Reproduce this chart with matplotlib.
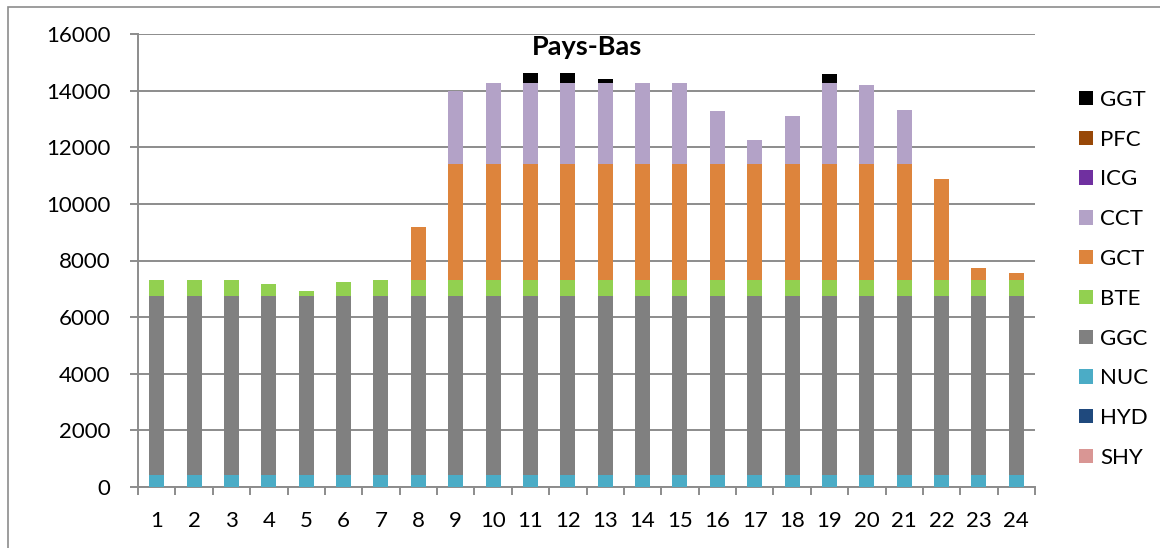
import numpy as np
import matplotlib
matplotlib.use('Agg')
import matplotlib.pyplot as plt
from matplotlib.patches import Rectangle, Patch

plt.rcParams['font.family'] = ['Lato', 'DejaVu Sans']

# data
hours = [str(h) for h in range(1, 25)]
series = ['SHY', 'HYD', 'NUC', 'GGC', 'BTE', 'GCT', 'CCT', 'ICG', 'PFC', 'GGT']
colors = ['#D99694', '#1F497D', '#4BACC6', '#808080', '#92D050',
          '#DD843C', '#B3A2C7', '#7030A0', '#984807', '#000000']

SHY = [0] * 24
HYD = [0] * 24
NUC = [440] * 24
GGC = [6310] * 24
BTE = [550, 550, 550, 430, 180, 475, 550, 550, 550, 550, 550, 550,
       550, 550, 550, 550, 550, 550, 550, 550, 550, 550, 550, 550]
GCT = [0, 0, 0, 0, 0, 0, 0, 1880, 4100, 4100, 4100, 4100,
       4100, 4100, 4100, 4100, 4100, 4100, 4100, 4100, 4100, 3590, 430, 265]
CCT = [0, 0, 0, 0, 0, 0, 0, 0, 2600, 2880, 2880, 2880,
       2880, 2880, 2880, 1870, 870, 1700, 2880, 2810, 1930, 0, 0, 0]
ICG = [0] * 24
PFC = [0] * 24
GGT = [0, 0, 0, 0, 0, 0, 0, 0, 0, 0, 350, 350,
       130, 0, 0, 0, 0, 0, 290, 0, 0, 0, 0, 0]

values = [SHY, HYD, NUC, GGC, BTE, GCT, CCT, ICG, PFC, GGT]

fig = plt.figure(figsize=(11.6, 5.48), dpi=100)
ax = fig.add_axes([138 / 1160, 1 - 487 / 548, (1035 - 138) / 1160, (487 - 34) / 548])

# chart frame
fig.patches.append(Rectangle((8 / 1160, -0.1), 1.2, 0.1 + 1 - 7 / 548,
                             transform=fig.transFigure, fill=False,
                             edgecolor='#8c8c8c', lw=1.2))

x = np.arange(1, 25)
bottom = np.zeros(24)
for name, col, vals in zip(series, colors, values):
    v = np.array(vals, dtype=float)
    ax.bar(x, v, width=0.4, bottom=bottom, color=col, linewidth=0, zorder=3)
    bottom += v

grid_col = '#8c8c8c'
ax.set_ylim(0, 16000)
ax.set_yticks(range(0, 16001, 2000))
ax.yaxis.grid(True, color=grid_col, lw=1.4, zorder=0)
ax.set_xlim(0.5, 24.5)
ax.set_xticks(x)
ax.set_xticklabels(hours)
ax.set_xticks(np.arange(0.5, 25, 1), minor=True)

for s in ['top', 'right']:
    ax.spines[s].set_visible(False)
for s in ['left', 'bottom']:
    ax.spines[s].set_color(grid_col)
    ax.spines[s].set_linewidth(1.4)

ax.tick_params(axis='x', which='major', length=0, pad=17, labelsize=16)
ax.tick_params(axis='x', which='minor', length=6, width=1.4, color=grid_col, direction='out')
ax.tick_params(axis='y', length=6, width=1.4, color=grid_col, pad=14, labelsize=16)

ax.text(0.5, (487 - 47) / 453, 'Pays-Bas', transform=ax.transAxes,
        ha='center', va='center', fontsize=19.5, fontweight='bold')

handles = [Patch(facecolor=c, edgecolor='none') for c in colors][::-1]
fig.legend(handles, series[::-1], loc='upper left',
           bbox_to_anchor=(1070 / 1160, 1 - 81 / 548), frameon=False,
           fontsize=16, handlelength=0.62, handleheight=0.62,
           handletextpad=0.35, labelspacing=0.89, borderaxespad=0)

fig.savefig('out.png', dpi=100, facecolor='white')
